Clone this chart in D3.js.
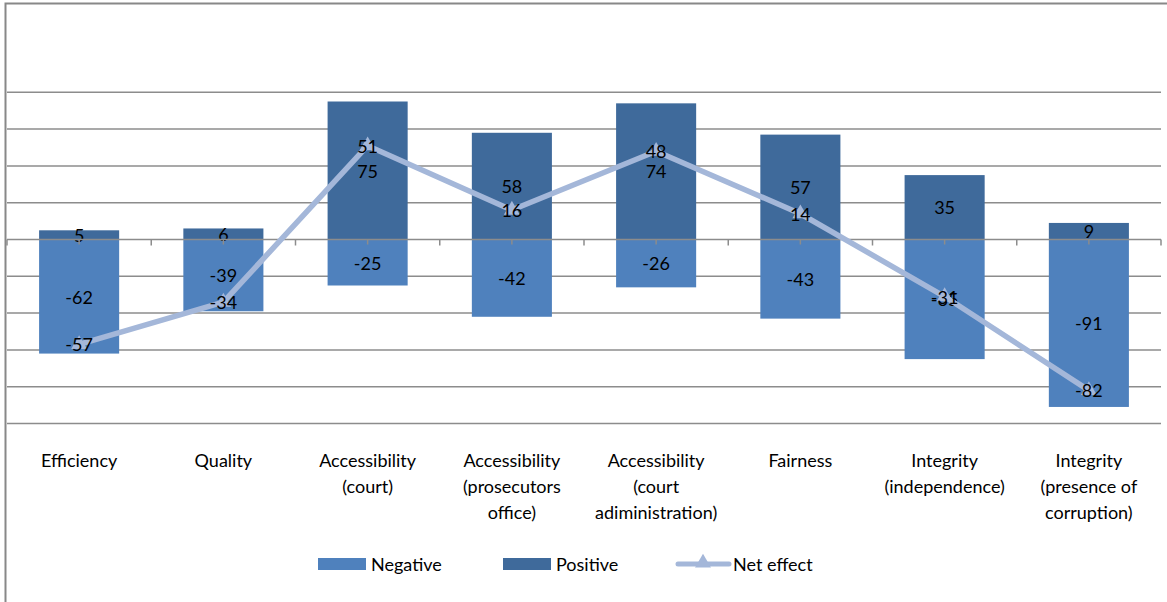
<!DOCTYPE html>
<html>
<head>
<meta charset="utf-8">
<script src="https://cdn.jsdelivr.net/npm/d3@7"></script>
<style>
  body { margin: 0; background: #fff; }
  text { font-family: Lato, "Liberation Sans", sans-serif; fill: #000; }
</style>
</head>
<body>
<div id="chart"></div>
<script>
// Chart data
var categories = [
  ["Efficiency"],
  ["Quality"],
  ["Accessibility", "(court)"],
  ["Accessibility", "(prosecutors", "office)"],
  ["Accessibility", "(court", "adiministration)"],
  ["Fairness"],
  ["Integrity", "(independence)"],
  ["Integrity", "(presence of", "corruption)"]
];
var negative = [-62, -39, -25, -42, -26, -43, -65, -91];
var positive = [5, 6, 75, 58, 74, 57, 35, 9];
var netEffect = [-57, -34, 51, 16, 48, 14, -31, -82];
var gridTicks = [-100, -80, -60, -40, -20, 20, 40, 60, 80];

var width = 1167, height = 602;
var colNeg = "#4f81bd", colPos = "#3f6a9b", colNet = "#a4b7d9";
var fs = "18px";

var svg = d3.select("#chart").append("svg")
    .attr("width", width)
    .attr("height", height);

// chart border
svg.append("path")
    .attr("d", "M5.5," + height + "V3.5H" + width)
    .attr("fill", "none")
    .attr("stroke", "#888")
    .attr("stroke-width", 2);

var idx = d3.range(categories.length);

var x = d3.scaleBand()
    .domain(idx)
    .range([7, 1161]);

var barW = x.bandwidth() * 0.555;

var y = d3.scaleLinear()
    .domain([-100, 120])
    .range([423.5, 18.7]);

// gridlines
svg.append("g").selectAll("line")
    .data(gridTicks)
  .enter().append("line")
    .attr("x1", 7).attr("x2", 1161)
    .attr("y1", function(d) { return y(d); })
    .attr("y2", function(d) { return y(d); })
    .attr("stroke", "#8c8c8c")
    .attr("stroke-width", 1.5);

// bars
var g = svg.append("g");
g.selectAll(".neg")
    .data(idx)
  .enter().append("rect")
    .attr("x", function(i) { return x(i) + (x.bandwidth() - barW) / 2; })
    .attr("width", barW)
    .attr("y", y(0))
    .attr("height", function(i) { return y(negative[i]) - y(0); })
    .attr("fill", colNeg);

g.selectAll(".pos")
    .data(idx)
  .enter().append("rect")
    .attr("x", function(i) { return x(i) + (x.bandwidth() - barW) / 2; })
    .attr("width", barW)
    .attr("y", function(i) { return y(positive[i]); })
    .attr("height", function(i) { return y(0) - y(positive[i]); })
    .attr("fill", colPos);

// zero axis with tick marks
var axisG = svg.append("g");
axisG.append("line")
    .attr("x1", 7).attr("x2", 1161)
    .attr("y1", y(0)).attr("y2", y(0))
    .attr("stroke", "#8c8c8c")
    .attr("stroke-width", 1.5);
axisG.selectAll(".major")
    .data(d3.range(categories.length + 1))
  .enter().append("line")
    .attr("x1", function(i) { return 7 + i * x.step(); })
    .attr("x2", function(i) { return 7 + i * x.step(); })
    .attr("y1", y(0)).attr("y2", y(0) + 6)
    .attr("stroke", "#8c8c8c")
    .attr("stroke-width", 1.5);
axisG.selectAll(".minor")
    .data(idx)
  .enter().append("line")
    .attr("x1", function(i) { return x(i) + x.bandwidth() / 2; })
    .attr("x2", function(i) { return x(i) + x.bandwidth() / 2; })
    .attr("y1", y(0)).attr("y2", y(0) + 5)
    .attr("stroke", "#8c8c8c")
    .attr("stroke-width", 1.5);

// bar labels
g.selectAll(".negLabel")
    .data(idx)
  .enter().append("text")
    .attr("x", function(i) { return x(i) + x.bandwidth() / 2; })
    .attr("y", function(i) { return (y(0) + y(negative[i])) / 2; })
    .attr("text-anchor", "middle")
    .attr("dominant-baseline", "central")
    .style("font-size", fs)
    .text(function(i) { return negative[i]; });

g.selectAll(".posLabel")
    .data(idx)
  .enter().append("text")
    .attr("x", function(i) { return x(i) + x.bandwidth() / 2; })
    .attr("y", function(i) { return (y(0) + y(positive[i])) / 2; })
    .attr("text-anchor", "middle")
    .attr("dominant-baseline", "central")
    .style("font-size", fs)
    .text(function(i) { return positive[i]; });

// net effect line
var line = d3.line()
    .x(function(i) { return x(i) + x.bandwidth() / 2; })
    .y(function(i) { return y(netEffect[i]); });

svg.append("path")
    .datum(idx)
    .attr("d", line)
    .attr("fill", "none")
    .attr("stroke", colNet)
    .attr("stroke-width", 5.5)
    .attr("stroke-linejoin", "round");

var tri = d3.symbol().type(d3.symbolTriangle).size(110);
svg.selectAll(".marker")
    .data(idx)
  .enter().append("path")
    .attr("d", tri)
    .attr("transform", function(i) {
      return "translate(" + (x(i) + x.bandwidth() / 2) + "," + y(netEffect[i]) + ")";
    })
    .attr("fill", colNet);

svg.selectAll(".netLabel")
    .data(idx)
  .enter().append("text")
    .attr("x", function(i) { return x(i) + x.bandwidth() / 2; })
    .attr("y", function(i) { return y(netEffect[i]); })
    .attr("text-anchor", "middle")
    .attr("dominant-baseline", "central")
    .style("font-size", fs)
    .text(function(i) { return netEffect[i]; });

// category labels
var cat = svg.append("g").selectAll("text")
    .data(idx)
  .enter().append("text")
    .attr("x", function(i) { return x(i) + x.bandwidth() / 2; })
    .attr("y", 461)
    .attr("text-anchor", "middle")
    .style("font-size", fs);

cat.selectAll("tspan")
    .data(function(i) { return categories[i]; })
  .enter().append("tspan")
    .attr("x", function() { return d3.select(this.parentNode).attr("x"); })
    .attr("dy", function(d, j) { return j === 0 ? "0.35em" : 26; })
    .text(function(d) { return d; });

// legend
var legend = svg.append("g");
legend.append("rect").attr("x", 318).attr("y", 558).attr("width", 48).attr("height", 12).attr("fill", colNeg);
legend.append("text").attr("x", 371).attr("y", 564).attr("dominant-baseline", "central")
    .style("font-size", fs).text("Negative");
legend.append("rect").attr("x", 503).attr("y", 558).attr("width", 48).attr("height", 12).attr("fill", colPos);
legend.append("text").attr("x", 556).attr("y", 564).attr("dominant-baseline", "central")
    .style("font-size", fs).text("Positive");
legend.append("line").attr("x1", 678).attr("x2", 729).attr("y1", 564).attr("y2", 564)
    .attr("stroke", colNet).attr("stroke-width", 5).attr("stroke-linecap", "round");
legend.append("path").attr("d", tri).attr("transform", "translate(703,563)").attr("fill", colNet);
legend.append("text").attr("x", 733).attr("y", 564).attr("dominant-baseline", "central")
    .style("font-size", fs).text("Net effect");
</script>
</body>
</html>
